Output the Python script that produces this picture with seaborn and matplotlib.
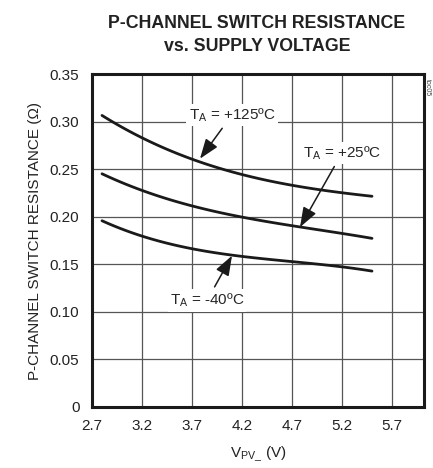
import numpy as np
import pandas as pd
import matplotlib
matplotlib.use("Agg")
import matplotlib.pyplot as plt
import seaborn as sns

# values
vpv = [2.8, 3.2, 3.7, 4.2, 4.7, 5.2, 5.5]
r_125 = [0.306, 0.284, 0.260, 0.244, 0.233, 0.226, 0.221]
r_25 = [0.245, 0.228, 0.211, 0.200, 0.190, 0.183, 0.177]
r_m40 = [0.196, 0.179, 0.167, 0.158, 0.153, 0.147, 0.143]
x_ticks = [2.7, 3.2, 3.7, 4.2, 4.7, 5.2, 5.7]
y_ticks = [0, 0.05, 0.10, 0.15, 0.20, 0.25, 0.30, 0.35]
y_labels = ["0", "0.05", "0.10", "0.15", "0.20", "0.25", "0.30", "0.35"]

df = pd.DataFrame({"vpv": vpv * 3,
                   "r": r_125 + r_25 + r_m40,
                   "temp": ["+125"] * 7 + ["+25"] * 7 + ["-40"] * 7})

sns.set_style("white")
plt.rcParams["font.family"] = ["Liberation Sans", "DejaVu Sans"]
plt.rcParams["mathtext.fontset"] = "custom"
plt.rcParams["mathtext.rm"] = "Liberation Sans"

fig = plt.figure(figsize=(4.33, 4.68), dpi=100)
ax = fig.add_axes([92 / 433, 61 / 468, 332 / 433, 333 / 468])

# smooth the read points with a cubic fit
xs = np.linspace(2.8, 5.5, 100)
for name in ["+125", "+25", "-40"]:
    sub = df[df.temp == name]
    c = np.polyfit(sub.vpv, sub.r, 3)
    sns.lineplot(x=xs, y=np.polyval(c, xs), ax=ax, color="#1a1a1a", lw=2.0)

ax.set_xlim(2.7, 6.02)
ax.set_ylim(0, 0.35)
ax.set_xticks(x_ticks)
ax.set_xticklabels([str(t) for t in x_ticks])
ax.set_yticks(y_ticks)
ax.set_yticklabels(y_labels)
ax.grid(True, color="#555555", lw=0.9)
for s in ax.spines.values():
    s.set_linewidth(2.2)
    s.set_color("#1a1a1a")
ax.tick_params(axis="both", length=0, labelsize=11, pad=9, colors="#222222")

ax.set_xlabel("V$_{\\mathregular{PV\\_}}$ (V)", fontsize=11, color="#222222", labelpad=8)
ax.set_ylabel("P-CHANNEL SWITCH RESISTANCE (\u03a9)", fontsize=11, color="#222222", labelpad=6)
fig.text(257 / 433, 1 - 35 / 468, "P-CHANNEL SWITCH RESISTANCE\nvs. SUPPLY VOLTAGE",
         ha="center", va="center", fontsize=12.8, fontweight="bold", color="#222222",
         linespacing=1.45)

box = dict(boxstyle="square,pad=0.15", fc="white", ec="none")
arr = dict(arrowstyle="-|>,head_length=1.1,head_width=0.4", color="#1a1a1a", lw=1.1,
           shrinkA=2, shrinkB=0)
ax.annotate("T$_{\\mathregular{A}}$ = +125\u00baC", xy=(3.78, 0.261), xytext=(4.1, 0.307),
            ha="center", va="center", fontsize=11, bbox=box, arrowprops=arr)
ax.annotate("T$_{\\mathregular{A}}$ = +25\u00baC", xy=(4.78, 0.189), xytext=(5.2, 0.267),
            ha="center", va="center", fontsize=11, bbox=box, arrowprops=arr)
ax.annotate("T$_{\\mathregular{A}}$ = -40\u00baC", xy=(4.1, 0.159), xytext=(3.85, 0.112),
            ha="center", va="center", fontsize=11, bbox=box, arrowprops=arr)

fig.text(427 / 433, 1 - 88 / 468, "toc05", rotation=-90, fontsize=5, ha="center",
         va="center", color="#444444")

fig.savefig("out.png", dpi=100)
